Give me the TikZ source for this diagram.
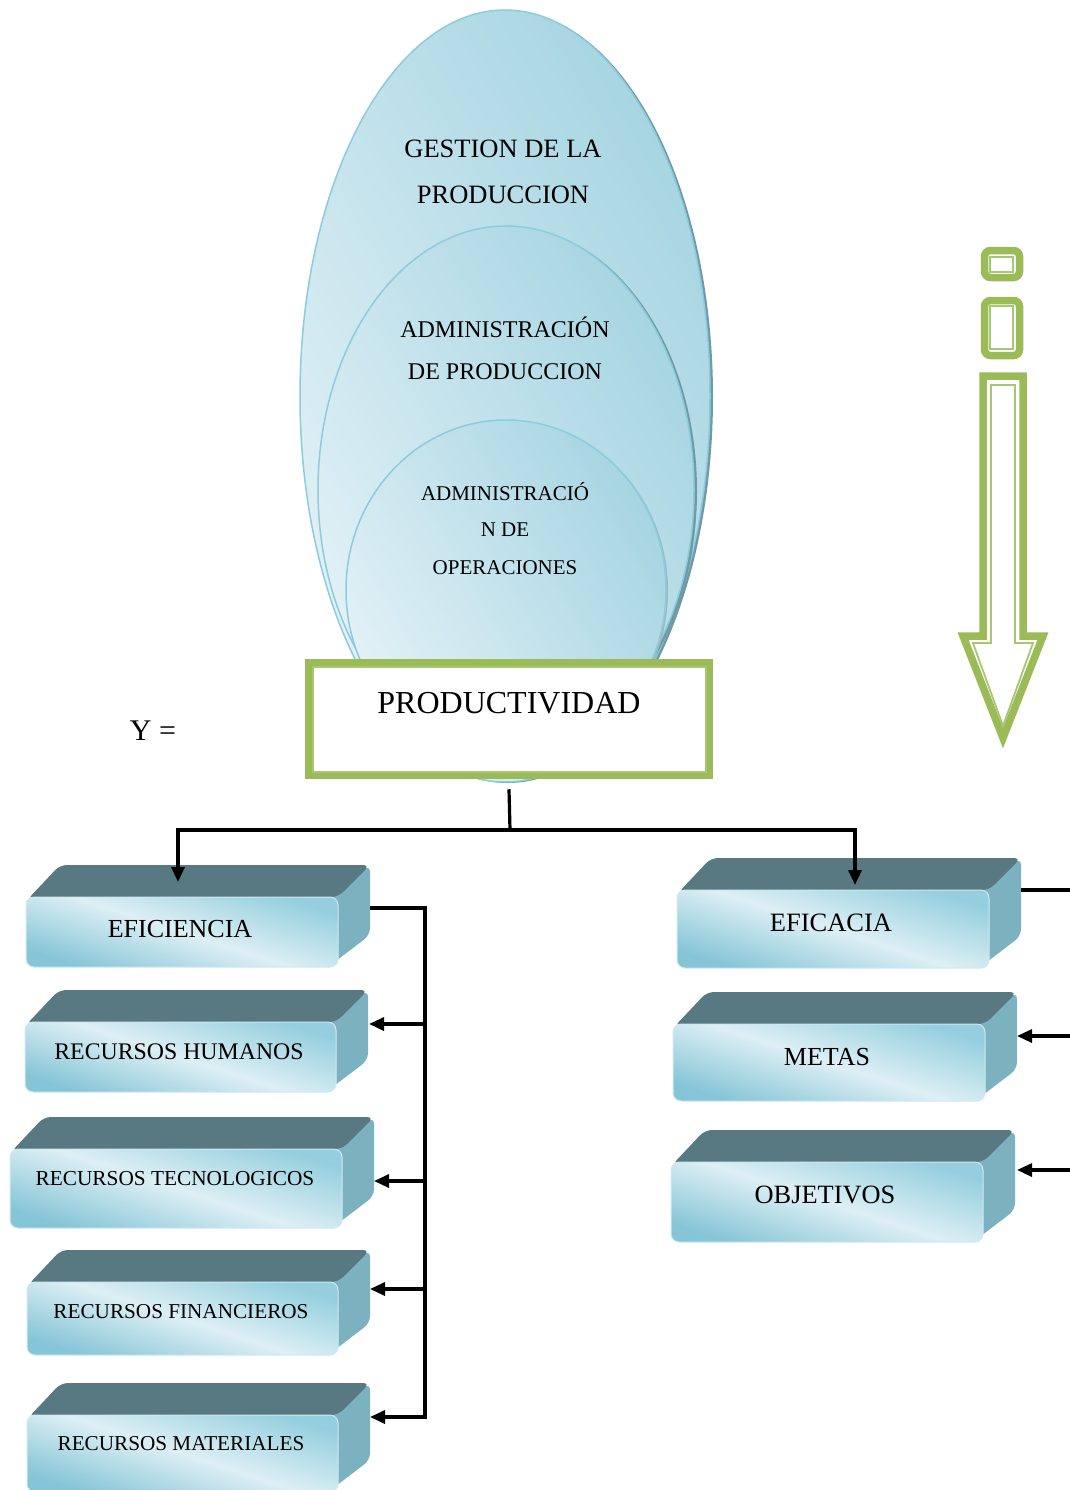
\documentclass[tikz,border=0pt]{standalone}
\usepackage{fontspec}
\setmainfont{Liberation Serif}
\usetikzlibrary{arrows.meta}
\definecolor{grn}{HTML}{9BBB59}
\definecolor{grnthin}{HTML}{A9C673}
\definecolor{topc}{HTML}{587882}
\definecolor{sidec}{HTML}{7CB1BF}
\definecolor{fdark}{HTML}{95CFDF}
\definecolor{fdarkb}{HTML}{86C5D7}
\definecolor{flight}{HTML}{DDEFF4}
\definecolor{edark}{HTML}{A6D5E2}
\definecolor{elight}{HTML}{E2F1F6}
\definecolor{eline}{HTML}{8ECBDB}
\definecolor{eshadow}{HTML}{6F9AA5}

\newcommand{\tdbox}[5]{%
  \pgfmathsetmacro\tdw{#4-#2}%
  \pgfmathsetmacro\tdh{#5-#3}%
  \fill[sidec, rounded corners=7pt] (#4-10,#3) -- (#4+32,#3-32) -- (#4+32,#5-32) -- (#4-10,#5) -- cycle;
  \fill[topc, rounded corners=7pt] (#2+1,#3+3) -- (#2+34,#3-32) -- (#4+32,#3-32) -- (#4,#3) -- cycle;
  \node[frontface, minimum width=\tdw pt, minimum height=\tdh pt] (#1) at ({(#2+#4)/2},{(#3+#5)/2}) {};
}

\begin{document}
\begin{tikzpicture}[x=1pt,y=-1pt,
  frontface/.style={rectangle, rounded corners=8pt, draw=white!55!fdark, line width=1pt,
    top color=fdark, bottom color=fdarkb, middle color=flight, shading angle=-18, inner sep=0pt},
  ell/.style={draw=eline, line width=1.5pt, top color=edark, bottom color=elight, shading angle=-60},
  etxt/.style={anchor=base, inner sep=0pt},
  btxt/.style={anchor=base, inner sep=0pt},
  line/.style={line width=3.2pt, black},
  arr/.style={line width=3.2pt, black, -{Triangle[length=15pt,width=13pt]}},
  grnthick/.style={draw=grn, line width=7.5pt},
  grnfine/.style={draw=grnthin, line width=1.8pt}
]
\useasboundingbox[fill=white] (0,0) rectangle (1070,1490);

% nested ellipses
\fill[eshadow] (508,397) ellipse [x radius=205pt, y radius=386pt];
\path[ell] (505,396) ellipse [x radius=205pt, y radius=386pt];
\fill[eshadow] (509,491) ellipse [x radius=188pt, y radius=264pt];
\path[ell] (506,490) ellipse [x radius=188pt, y radius=264pt];
\fill[eshadow!70!white] (508,591) ellipse [x radius=160pt, y radius=170pt];
\path[ell] (506,590) ellipse [x radius=160pt, y radius=170pt];

\node[etxt, font=\fontsize{26.5}{30}\selectfont] (g1) at (503,158) {GESTION DE LA};
\node[etxt, font=\fontsize{26.5}{30}\selectfont] (g2) at (503,204) {PRODUCCION};
\node[etxt, font=\fontsize{24}{28}\selectfont] (a1) at (505,337) {ADMINISTRACIÓN};
\node[etxt, font=\fontsize{24}{28}\selectfont] (a2) at (505,379) {DE PRODUCCION};
\node[etxt, font=\fontsize{21}{25}\selectfont] (o1) at (505,500) {ADMINISTRACIÓ};
\node[etxt, font=\fontsize{21}{25}\selectfont] (o2) at (505,536) {N DE};
\node[etxt, font=\fontsize{21}{25}\selectfont] (o3) at (505,574) {OPERACIONES};

% productividad box
\node[rectangle, fill=white, grnthick, minimum width=401pt, minimum height=113pt, inner sep=0pt] (prod) at (509,719) {};
\draw[grnfine] ([shift={(8,8)}]prod.north west) rectangle ([shift={(-7,-7)}]prod.south east);
\node[etxt, font=\fontsize{32}{38}\selectfont] (prodT) at (509,713) {PRODUCTIVIDAD};
\node[etxt, font=\fontsize{30}{36}\selectfont] (yeq) at (153,740) {Y =};

% green arrow on the right
\draw[grnthick, rounded corners=6pt] (984.5,250.5) rectangle (1019.5,277.5);
\draw[grnfine] (990,257) rectangle (1013,272);
\draw[grnthick, rounded corners=6pt] (984.5,300.5) rectangle (1019.5,355.5);
\draw[grnfine] (990,306) rectangle (1013,349);
\draw[grnthick, line join=miter] (983,376) -- (1023,376) -- (1023,636) -- (1043,636) -- (1003,738) -- (963,636) -- (983,636) -- cycle;
\draw[grnfine, line join=miter] (991,385) -- (1015,385) -- (1015,643) -- (1033,643) -- (1003,726) -- (973,643) -- (991,643) -- cycle;

% 3D boxes
\tdbox{efi}{26}{897}{338}{967}
\tdbox{hum}{25}{1022}{336}{1092}
\tdbox{tec}{10}{1149}{342}{1228}
\tdbox{fin}{27}{1282}{338}{1355}
\tdbox{mat}{27}{1415}{338}{1492}
\tdbox{efc}{677}{890}{989}{968}
\tdbox{met}{673}{1024}{985}{1101}
\tdbox{obj}{671}{1162}{983}{1242}

\node[btxt, font=\fontsize{26}{30}\selectfont] (efiT) at (180,937) {EFICIENCIA};
\node[btxt, font=\fontsize{23.8}{28}\selectfont] (humT) at (179,1059) {RECURSOS HUMANOS};
\node[btxt, font=\fontsize{21.3}{25}\selectfont] (tecT) at (175,1185) {RECURSOS TECNOLOGICOS};
\node[btxt, font=\fontsize{21.2}{25}\selectfont] (finT) at (181,1318) {RECURSOS FINANCIEROS};
\node[btxt, font=\fontsize{21.2}{25}\selectfont] (matT) at (181,1450) {RECURSOS MATERIALES};
\node[btxt, font=\fontsize{26.5}{30}\selectfont] (efcT) at (831,931) {EFICACIA};
\node[btxt, font=\fontsize{26}{30}\selectfont] (metT) at (827,1065) {METAS};
\node[btxt, font=\fontsize{26.4}{30}\selectfont] (objT) at (825,1203) {OBJETIVOS};

% connector coordinates
\coordinate (junc) at (510,830);
\coordinate (efiIn) at (178,882);
\coordinate (efcIn) at (855,885);
\coordinate (efiR) at (370,908);
\coordinate (lbus) at (425,908);
\coordinate (humR) at (369,1024);
\coordinate (tecR) at (374,1181);
\coordinate (finR) at (370,1289);
\coordinate (matR) at (370,1417);
\coordinate (efcR) at (1021,890);
\coordinate (metR) at (1017,1036);
\coordinate (objR) at (1017,1170);
\coordinate (edge) at (1080,0);

% connectors
\draw[line] ([yshift=-10pt]prod.south) -- (junc);
\draw[arr] (junc) -| (efiIn);
\draw[arr] (junc) -| (efcIn);
\draw[arr] (efiR) -- (lbus) |- (matR);
\draw[arr] (lbus |- humR) -- (humR);
\draw[arr] (lbus |- tecR) -- (tecR);
\draw[arr] (lbus |- finR) -- (finR);
\draw[line] (efcR) -- (efcR -| edge);
\draw[arr] (edge |- metR) -- (metR);
\draw[arr] (edge |- objR) -- (objR);
\end{tikzpicture}
\end{document}
